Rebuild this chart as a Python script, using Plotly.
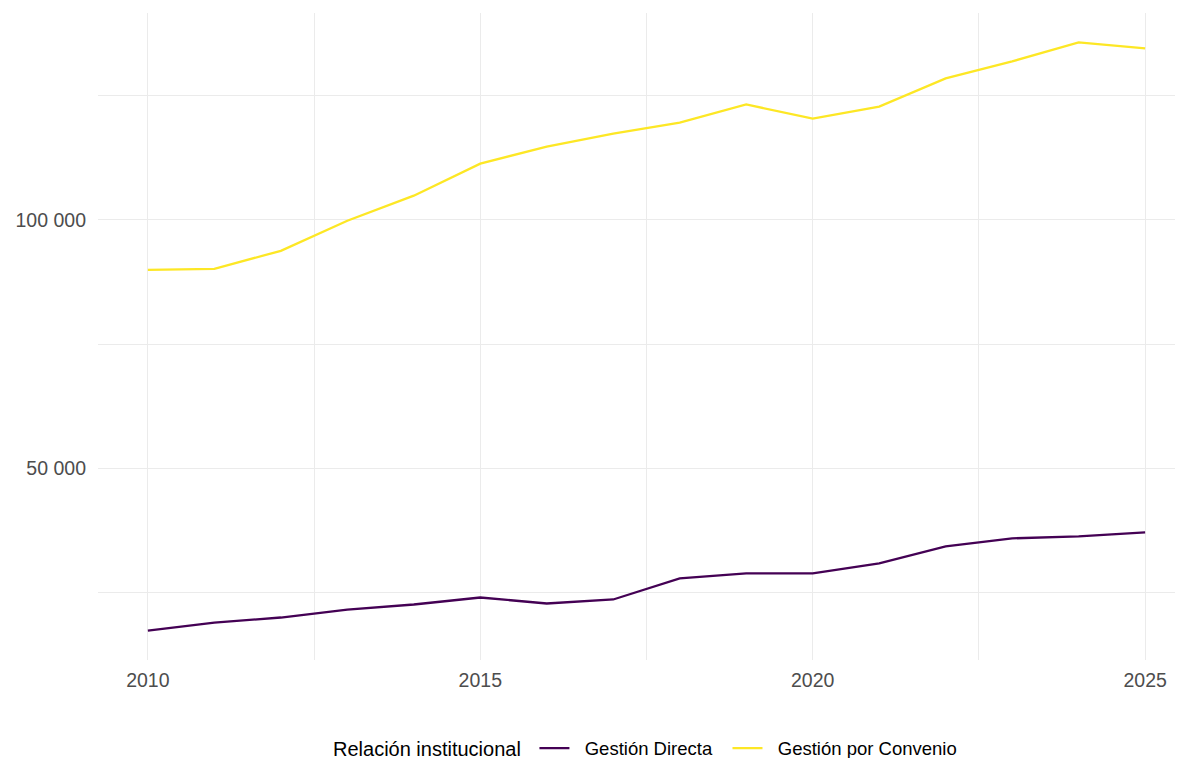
import plotly.graph_objects as go

YEARS = list(range(2010, 2026))
GESTION_DIRECTA = [
    17340, 18960, 19970, 21580, 22590, 24000, 22790, 23600,
    27830, 28840, 28840, 30860, 34280, 35890, 36300, 37100,
]
GESTION_CONVENIO = [
    89920, 90120, 93750, 99800, 104840, 111290, 114720, 117340,
    119560, 123190, 120360, 122780, 128430, 131860, 135680, 134470,
]
SERIES = [
    ("Gestión Directa", GESTION_DIRECTA, "#440154"),
    ("Gestión por Convenio", GESTION_CONVENIO, "#FDE725"),
]

GRID = "#ebebeb"
TICK_INK = "#4d4d4d"
FONT_FAMILY = "Liberation Sans, Arial, sans-serif"
NBSP = "\u00a0"

fig = go.Figure()
for name, values, color in SERIES:
    fig.add_trace(
        go.Scatter(
            x=YEARS,
            y=values,
            mode="lines",
            # pad the label so the legend spacing matches ggplot's
            name=NBSP * 2 + name + NBSP * 2,
            line=dict(color=color, width=2.3),
        )
    )

fig.update_layout(
    width=1183,
    height=758,
    paper_bgcolor="white",
    plot_bgcolor="white",
    separators=", ",
    font=dict(family=FONT_FAMILY, color="black", size=18),
    margin=dict(l=90, r=0, t=5, b=106),
    showlegend=True,
    legend=dict(
        orientation="h",
        x=0.5064,
        xanchor="center",
        yref="container",
        y=0.023,
        yanchor="middle",
        title=dict(text="Relación institucional ", font=dict(size=20)),
        font=dict(size=18.5),
        itemwidth=30,
    ),
)
fig.update_xaxes(
    range=[2009.25, 2025.69],
    tickmode="linear",
    tick0=2010,
    dtick=5,
    showgrid=True,
    gridcolor=GRID,
    gridwidth=1.2,
    minor=dict(dtick=2.5, tick0=2010, showgrid=True, gridcolor=GRID, gridwidth=0.6),
    zeroline=False,
    showline=False,
    ticks="",
    ticklabelstandoff=6,
    tickfont=dict(size=19.5, color=TICK_INK),
)
fig.update_yaxes(
    range=[11423, 141597],
    tickmode="linear",
    tick0=0,
    dtick=50000,
    tickformat=",",
    showgrid=True,
    gridcolor=GRID,
    gridwidth=1.2,
    minor=dict(dtick=25000, tick0=0, showgrid=True, gridcolor=GRID, gridwidth=0.6),
    zeroline=False,
    showline=False,
    ticks="",
    ticklabelstandoff=11,
    tickfont=dict(size=19.5, color=TICK_INK),
)

fig.write_html("out.html")
